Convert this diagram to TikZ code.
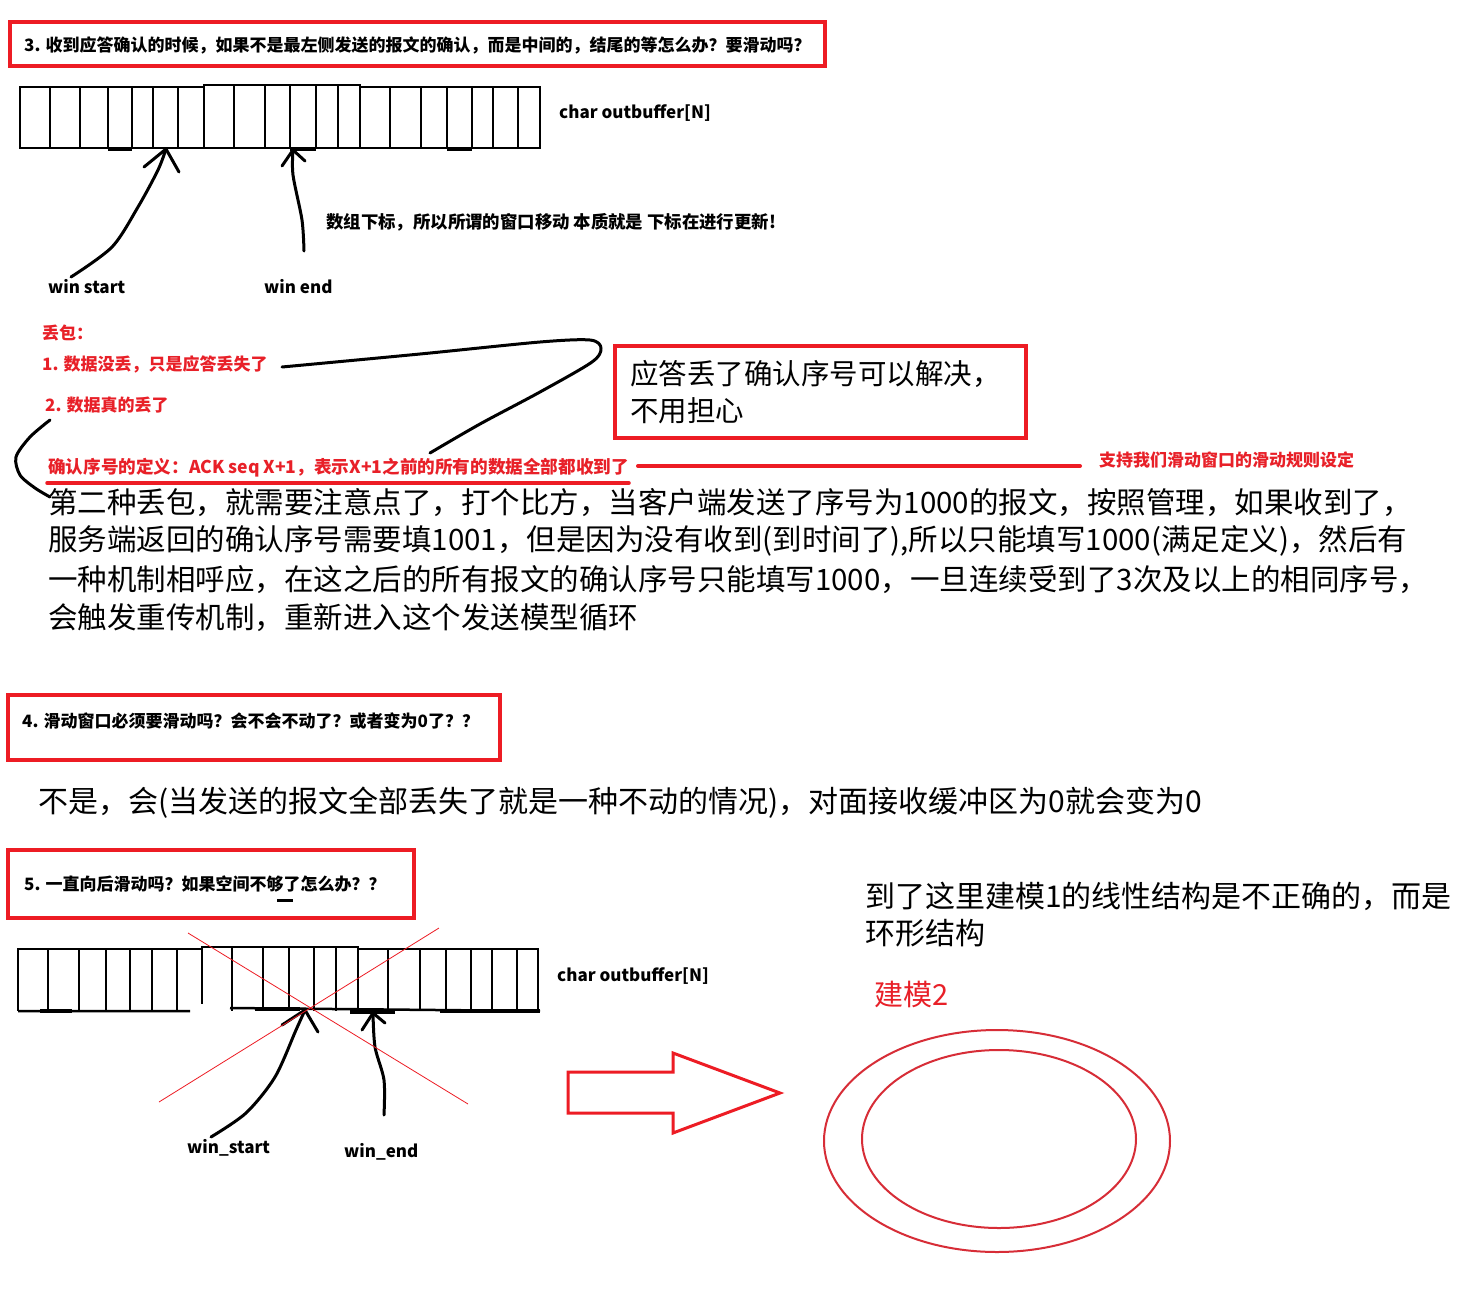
\documentclass[tikz,border=0pt]{standalone}
\usepackage{fontspec}
\setmainfont{Noto Sans CJK SC}
\definecolor{boxred}{RGB}{237,28,36}
\definecolor{txtred}{RGB}{232,32,40}
\definecolor{ringred}{RGB}{215,45,55}
\newcommand\fsz[1]{\fontsize{#1}{#1}\selectfont}
\tikzset{
  redbox/.style={draw=boxred, line width=4pt},
  hand/.style={line width=3pt, line cap=round, line join=round},
  cellline/.style={line width=2.5pt},
  lbl/.style={inner sep=0pt, anchor=west},
  head/.style={lbl, font=\fsz{17}\bfseries},
  redt/.style={lbl, text=txtred, font=\fsz{17}\bfseries},
  small/.style={lbl, font=\fsz{17}\bfseries},
  body/.style={lbl, font=\fsz{29.5}},
}
\begin{document}
\begin{tikzpicture}[x=1pt,y=-1pt]
\useasboundingbox (0,0) rectangle (1478,1293);
\fill[white] (0,0) rectangle (1478,1293);

% ---- heading 3
\draw[redbox] (10,22) rectangle (825,66);
\begin{scope}
\clip (12,24) rectangle (808,64);
\node[head] (h3) at (24,45) {3. 收到应答确认的时候，如果不是最左侧发送的报文的确认，而是中间的，结尾的等怎么办？要滑动吗？};
\end{scope}

% ---- array 1
\draw[cellline] (20,87) -- (204,87) -- (204,85) -- (360,85) -- (360,87) -- (540,87);
\draw[cellline] (20,148) -- (540,148);
\foreach \xx in {20,50,80,108,132,153,178,204,234,265,290,316,338,360,390,421,447,472,493,518,540}
  \draw[cellline] (\xx,86) -- (\xx,149);
\draw[line width=4pt] (108,149) -- (132,149) (290,149) -- (316,149) (447,149) -- (472,149);
\node[small] (buf1) at (559,113) {char outbuffer[N]};

% win start / win end arrows (array 1)
\coordinate (ws1) at (166,149);
\coordinate (we1) at (293,150);
\draw[hand] plot[smooth] coordinates {(71,277) (112,247) (138,207) (158,170) (ws1)};
\draw[hand] (144,167) -- (ws1) -- (179,172);
\draw[hand] plot[smooth] coordinates {(304,251) (302,220) (293,175) (we1)};
\draw[hand] (282,166) -- (we1) -- (305,161);
\node[small] (wstart1) at (48,287) {win start};
\node[small] (wend1) at (264,287) {win end};
\node[small, font=\fsz{17.4}\bfseries] (note1) at (326,222) {数组下标，所以所谓的窗口移动 本质就是 下标在进行更新!};

% ---- packet loss notes
\node[redt] (loss) at (42,333) {丢包：};
\node[redt] (loss1) at (42,364) {1. 数据没丢，只是应答丢失了};
\node[redt] (loss2) at (45,405) {2. 数据真的丢了};
\node[redt, font=\fsz{17.6}\bfseries] (def) at (48,468) {确认序号的定义：ACK seq X+1，表示X+1之前的所有的数据全部都收到了};
\draw[boxred, line width=3.5pt, line cap=round] (47,483) -- (629,483);
\draw[boxred, line width=4pt, line cap=round] (638,466) -- (1080,466);
\node[redt] (rule) at (1099,460) {支持我们滑动窗口的滑动规则设定};

\draw[hand] plot[smooth] coordinates {(282,367) (420,354) (540,342) (590,340) (601,348) (592,362) (540,392) (480,424) (430,453)};
\draw[hand] plot[smooth] coordinates {(50,420) (30,437) (16,457) (20,475) (35,488) (50,497)};

\draw[redbox] (615,346) rectangle (1026,438);
\node[lbl, font=\fsz{28.5}] (ok1) at (630,374) {应答丢了确认序号可以解决，};
\node[lbl, font=\fsz{28.5}] (ok2) at (630,411) {不用担心};

% ---- body text
\node[body] (b1) at (48,503) {第二种丢包，就需要注意点了，打个比方，当客户端发送了序号为1000的报文，按照管理，如果收到了，};
\node[body] (b2) at (48,541) {服务端返回的确认序号需要填1001，但是因为没有收到(到时间了),所以只能填写1000(满足定义)，然后有};
\node[body] (b3) at (48,580) {一种机制相呼应，在这之后的所有报文的确认序号只能填写1000，一旦连续受到了3次及以上的相同序号，};
\node[body] (b4) at (48,618) {会触发重传机制，重新进入这个发送模型循环};

% ---- heading 4
\draw[redbox] (8,695) rectangle (500,760);
\node[head] (h4) at (22,721) {4. 滑动窗口必须要滑动吗？会不会不动了？或者变为0了？？};
\node[lbl, font=\fsz{30}] (ans4) at (38,803) {不是，会(当发送的报文全部丢失了就是一种不动的情况)，对面接收缓冲区为0就会变为0};

% ---- heading 5
\draw[redbox] (8,850) rectangle (414,918);
\node[head] (h5) at (24,884) {5. 一直向后滑动吗？如果空间不够了怎么办？？};
\draw[line width=3pt] (277,900) -- (293,900);

% ---- array 2
\draw[cellline] (18,949) -- (202,949) -- (202,947) -- (358,947) -- (358,949) -- (538,949);
\draw[cellline] (18,1011) -- (190,1011) (230,1008) -- (540,1011);
\foreach \xx in {18,48,79,106,130,152,177,232,263,289,314,336,358,388,420,446,471,492,517,538}
  \draw[cellline] (\xx,948) -- (\xx,1011);
\draw[cellline] (202,947) -- (202,1004);
\draw[line width=4pt] (40,1011) -- (72,1011) (255,1009) -- (300,1009) (350,1012) -- (395,1012) (440,1011) -- (540,1011);
\node[small] (buf2) at (557,976) {char outbuffer[N]};

\coordinate (ws2) at (305,1010);
\coordinate (we2) at (373,1013);
\draw[hand] plot[smooth] coordinates {(211,1137) (246,1113) (275,1077) (296,1030) (ws2)};
\draw[hand] (282,1025) -- (ws2) -- (318,1032);
\draw[hand] plot[smooth] coordinates {(384,1115) (384,1080) (375,1047) (we2)};
\draw[hand] (362,1030) -- (we2) -- (385,1023);
\node[small] (wstart2) at (187,1148) {win\_start};
\node[small] (wend2) at (344,1152) {win\_end};

\draw[boxred, line width=0.8pt] (188,933) -- (468,1104);
\draw[boxred, line width=0.8pt] (439,928) -- (159,1102);

% ---- ring model
\node[lbl, font=\fsz{30}] (ring1) at (865,896) {到了这里建模1的线性结构是不正确的，而是};
\node[lbl, font=\fsz{30}] (ring2) at (865,933) {环形结构};
\node[lbl, font=\fsz{29}, text=txtred] (model2) at (874,994) {建模2};

\draw[boxred, line width=3pt, line join=miter] (568,1072) -- (673,1072) -- (673,1053) -- (780,1093) -- (673,1133) -- (673,1113) -- (568,1113) -- cycle;

\draw[ringred, line width=2pt] (997,1141) ellipse [x radius=173pt, y radius=111pt];
\draw[ringred, line width=2pt] (999,1139) ellipse [x radius=137pt, y radius=89pt];
\end{tikzpicture}
\end{document}
